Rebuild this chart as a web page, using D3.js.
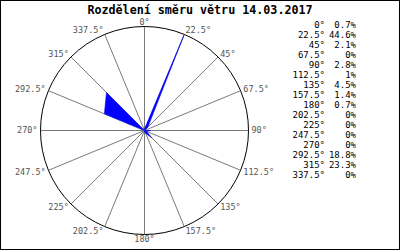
<!DOCTYPE html>
<html>
<head>
<meta charset="utf-8">
<script src="https://cdn.jsdelivr.net/npm/d3@7"></script>
<style>
  body { margin: 0; background: #fff; }
  svg { display: block; }
</style>
</head>
<body>
<div id="vis"></div>
<script>
// wind direction distribution, percent of samples
const title = "Rozdělení směru větru 14.03.2017";
const directions = [0, 22.5, 45, 67.5, 90, 112.5, 135, 157.5, 180, 202.5, 225, 247.5, 270, 292.5, 315, 337.5];
const shares = [0.7, 44.6, 2.1, 0, 2.8, 1, 4.5, 1.4, 0.7, 0, 0, 0, 0, 18.8, 23.3, 0];
const radiusMax = 45;

const width = 400;
const height = 250;
const cx = 144.5;
const cy = 130.5;
const R = 104;

const svg = d3.select("#vis")
  .append("svg")
  .attr("width", width)
  .attr("height", height);

svg.append("rect")
  .attr("x", 0.5).attr("y", 0.5)
  .attr("width", width - 1).attr("height", height - 1)
  .attr("fill", "#fff")
  .attr("stroke", "#000");

svg.append("text")
  .attr("x", 200)
  .attr("y", 13.5)
  .attr("text-anchor", "middle")
  .attr("font-family", "'DejaVu Sans Mono', monospace")
  .attr("font-weight", "bold")
  .attr("font-size", 11.7)
  .attr("fill", "#000")
  .text(title);

// scales
const r = d3.scaleLinear().domain([0, radiusMax]).range([0, R]);
const toRad = (d) => (d * Math.PI) / 180;

const g = svg.append("g").attr("transform", `translate(${cx},${cy})`);

// spokes
g.selectAll("line.spoke")
  .data(directions)
  .join("line")
  .attr("class", "spoke")
  .attr("x1", 0).attr("y1", 0)
  .attr("x2", (d) => R * Math.sin(toRad(d)))
  .attr("y2", (d) => -R * Math.cos(toRad(d)))
  .attr("stroke", "#7a7a7a")
  .attr("stroke-width", 1);

g.append("circle")
  .attr("r", R)
  .attr("fill", "none")
  .attr("stroke", "#000")
  .attr("stroke-width", 1);

// rose polygon
const line = d3.lineRadial()
  .angle((d, i) => toRad(directions[i]))
  .radius((d) => r(d))
  .curve(d3.curveLinearClosed);

g.append("path")
  .attr("d", line(shares))
  .attr("fill", "#0000ff")
  .attr("stroke", "#0000ff")
  .attr("stroke-width", 0.5);

// angle labels
g.selectAll("text.lab")
  .data(directions)
  .join("text")
  .attr("class", "lab")
  .attr("x", (d) => (R + 3) * Math.sin(toRad(d)))
  .attr("y", (d) => -(R + 4.5) * Math.cos(toRad(d)))
  .attr("dy", "0.35em")
  .attr("text-anchor", (d) => {
    const s = Math.sin(toRad(d));
    return s > 0.05 ? "start" : s < -0.05 ? "end" : "middle";
  })
  .attr("font-family", "'DejaVu Sans Mono', monospace")
  .attr("font-size", 8.5)
  .attr("fill", "#555")
  .text((d) => d + "°");

// legend table
const legend = svg.append("g")
  .attr("font-family", "'DejaVu Sans Mono', monospace")
  .attr("font-size", 9)
  .attr("fill", "#000");

const rowY = d3.scaleLinear().domain([0, directions.length - 1]).range([24.5, 174.5]);

legend.selectAll("text.deg")
  .data(directions)
  .join("text")
  .attr("class", "deg")
  .attr("x", 325)
  .attr("y", (d, i) => rowY(i))
  .attr("dy", "0.35em")
  .attr("text-anchor", "end")
  .text((d) => d + "°");

legend.selectAll("text.pct")
  .data(shares)
  .join("text")
  .attr("class", "pct")
  .attr("x", 356)
  .attr("y", (d, i) => rowY(i))
  .attr("dy", "0.35em")
  .attr("text-anchor", "end")
  .text((d) => d + "%");
</script>
</body>
</html>
